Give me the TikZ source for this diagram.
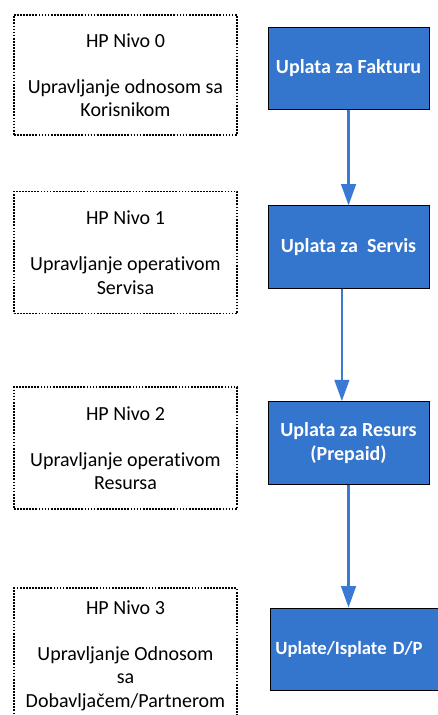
\documentclass[tikz,border=0pt]{standalone}
\usepackage{fontspec}
\setmainfont{Carlito}[Ligatures=NoCommon]
\usetikzlibrary{arrows.meta,positioning}

\definecolor{uplblue}{RGB}{52,117,206}
\definecolor{arrblue}{RGB}{58,122,212}

\begin{document}
\begin{tikzpicture}[
  every node/.style={align=center,font=\fontsize{15}{17.6}\selectfont},
  lvl/.style={rectangle,draw,line width=1.3pt,dash pattern=on 1.3pt off 1pt,minimum width=167.25pt,inner sep=0pt},
  upl/.style={rectangle,draw,line width=0.8pt,fill=uplblue,text=white,font=\fontsize{15}{17.6}\selectfont\bfseries,minimum width=120.75pt,minimum height=62pt},
  arr/.style={draw=arrblue,line width=1.8pt,-{Triangle[width=11pt,length=16pt]}}
]
\useasboundingbox (0,0) rectangle (328.5pt,-536.25pt);
\clip (0,0) rectangle (328.5pt,-536.25pt);
% levels (left column)
\node[lvl,minimum height=90pt] (lvl0) at (94.1pt,-56.25pt) {HP Nivo 0\\[17pt]Upravljanje odnosom sa\\Korisnikom};
\node[lvl,minimum height=91.5pt,below=41pt of lvl0] (lvl1) {HP Nivo 1\\[17pt]Upravljanje operativom\\Servisa};
\node[lvl,minimum height=91.5pt,below=54pt of lvl1] (lvl2) {HP Nivo 2\\[17pt]Upravljanje operativom\\Resursa};
\node[lvl,minimum height=101.25pt,below=58pt of lvl2] (lvl3) {HP Nivo 3\\[17pt]Upravljanje Odnosom\\sa\\Dobavljačem/Partnerom};
% payments (right column)
\node[upl] (fak) at (261.4pt,-51.4pt) {Uplata za Fakturu};
\node[upl,below=71.25pt of fak] (srv) {Uplata za~ Servis};
\node[upl,below=84pt of srv] (res) {Uplata za Resurs\\(Prepaid)};
\node[upl,below=92pt of res.south west,anchor=north west,xshift=1.5pt,minimum width=132.75pt,inner xsep=4pt,text width=124.75pt,align=left,font=\fontsize{14}{17}\selectfont\bfseries] (dp) {Uplate/Isplate D/P};
\draw[arr] (fak) -- (srv);
\draw[arr] ([xshift=-5pt]srv.south) -- ([xshift=-5pt]res.north);
\draw[arr] (res) -- (res|-dp.north);
\end{tikzpicture}
\end{document}
